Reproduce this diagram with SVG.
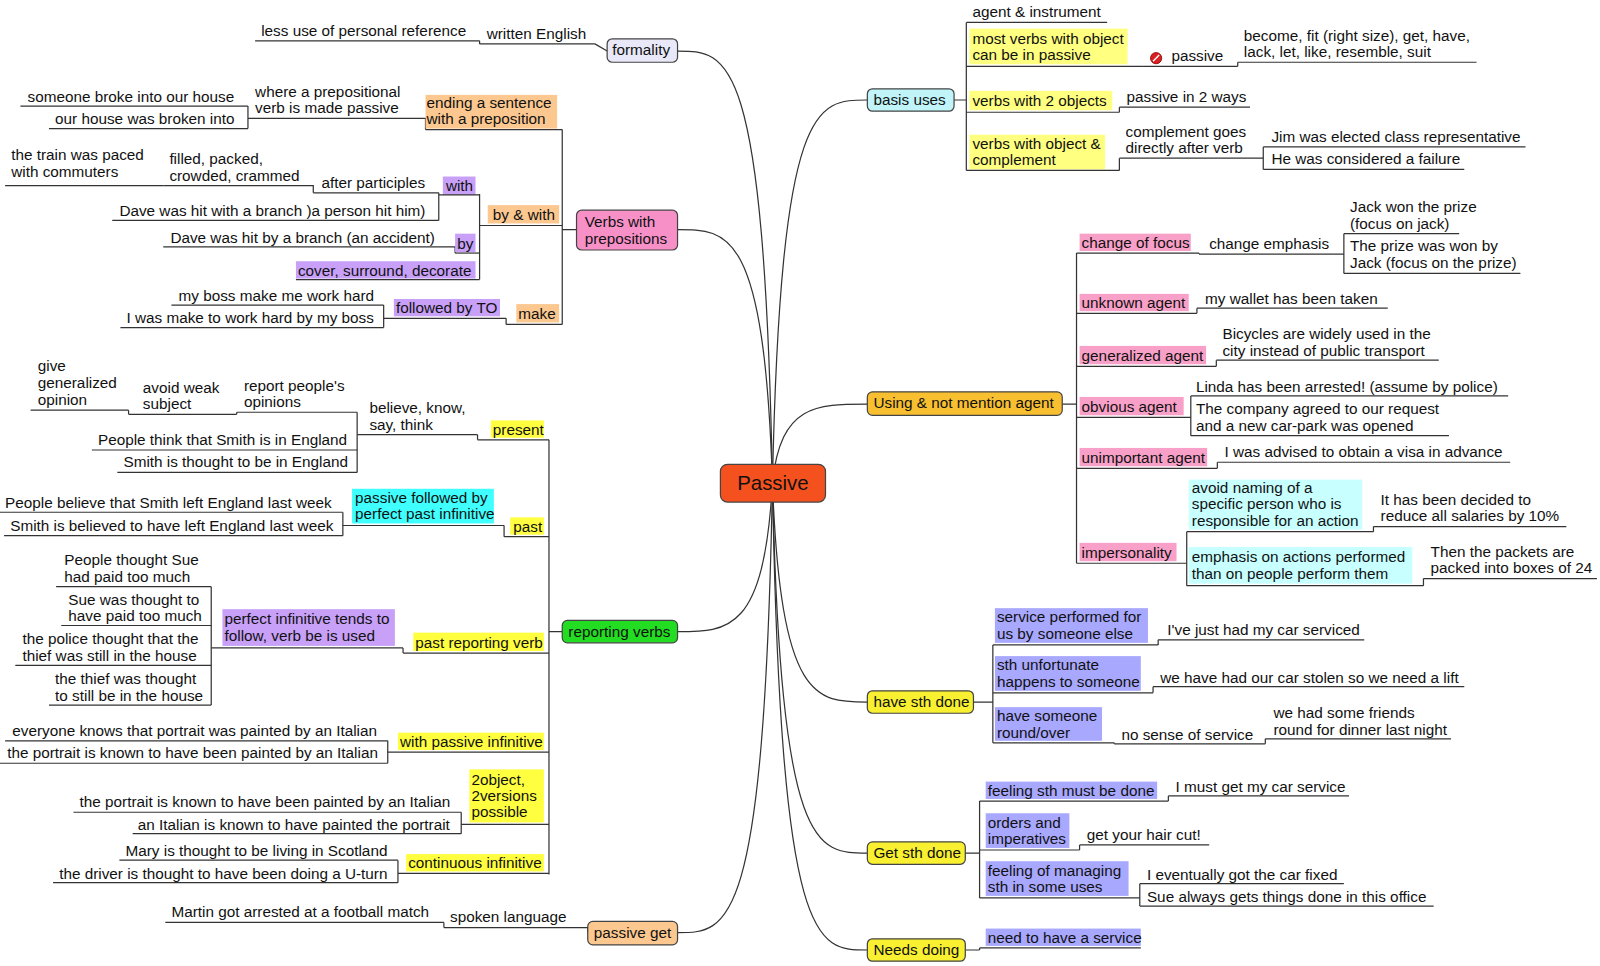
<svg xmlns="http://www.w3.org/2000/svg" width="1600" height="966" viewBox="0 0 1600 966">
<style>
text{font-family:"Liberation Sans",Arial,sans-serif;font-size:15px;fill:#111}
.u,.c path,.c line{stroke:#333;stroke-width:1.2;fill:none}
.b{stroke:#444;stroke-width:1.2}
.y{fill:#ffff40}.p{fill:#f9a0c8}.o{fill:#fcc890}.v{fill:#c8a0f8}.bl{fill:#a8a8ff}.cy{fill:#40ffff}.lc{fill:#c8ffff}.yl{fill:#ffff80}
</style>
<rect width="1600" height="966" fill="#ffffff"/>
<g transform="scale(1.0204)">
<g class="c" id="connectors">
<path d="M757,473 C749,50 714,50 664,50"/><path d="M757,473 C749,225 714,225 664,225"/><path d="M757,473 C749,619 714,619 664,619"/><path d="M757,473 C749,914 714,914 664,914"/>
<path d="M757,473 C765,98 800,98 850,98"/><path d="M757,473 C765,396 800,396 850,396"/><path d="M757,473 C765,688 800,688 850,688"/><path d="M757,473 C765,836 800,836 850,836"/><path d="M757,473 C765,931 800,931 850,931"/>
<path d="M583,43 L595,50 M470,40 V43 M551,127 V318 M551,225 H565 M417,116 V127 M243,104 V126 M470,190 V274 M430,189 V216 M446,242 V248 M496,312 V318 M376,299 V321"/>
<path d="M538,431 V857 M538,619 H551 M468,426 V431 M350,404 V463 M232,404 V406 M126,402 V406 M494,515 V526 M336,502 V525 M395,635 V640 M207,575 V691 M380,726 V748 M452,796 V817 M390,843 V865 M576,909 V914 M435,904 V909"/>
<path d="M935,98 H947 M947,22 V167 M1213,61 V65 M1097,105 V110 M1097,155 V167 M1238,144 V166"/>
<path d="M1041,396 H1055 M1055,248 V552 M1175,248 V249 M1317,229 V268 M1173,302 V307 M1192,353 V359 M1167,388 V427 M1193,453 V459 M1163,521 V574 M1346,516 V521 M1395,567 V574"/>
<path d="M954,688 H973 M973,632 V728 M1135,627 V632 M1130,673 V679 M1092,728 V729 M1240,724 V729 M946,836 H960 M960,785 V880 M1145,780 V785 M1058,828 V833 M1117,866 V888 M946,931 H960 M960,929 V931"/>
</g>
<g id="passive"><rect x="706" y="455" width="103" height="37" rx="7" fill="#f4511e" class="b"/><text x="757.5" y="480" text-anchor="middle" style="font-size:20px">Passive</text></g>

<g id="formality"><rect x="595" y="38" width="69" height="23" rx="5" fill="#e8e8f8" class="b"/><text x="600" y="54">formality</text></g>
<g id="written"><text x="477" y="38">written English</text><path class="u" d="M470,43 H583"/></g>
<g id="lessuse"><text x="256" y="35">less use of personal reference</text><path class="u" d="M250,40 H470"/></g>

<g id="verbsprep"><rect x="565" y="206" width="99" height="39" rx="5" fill="#f890c8" class="b"/><text x="573" y="222">Verbs with</text><text x="573" y="239">prepositions</text></g>
<g id="ending"><rect x="417" y="93" width="129" height="33" class="o"/><text x="418" y="106">ending a sentence</text><text x="418" y="122">with a preposition</text><path class="u" d="M417,127 H551"/></g>
<g id="where"><text x="250" y="95">where a prepositional</text><text x="250" y="111">verb is made passive</text><path class="u" d="M243,116 H417"/></g>
<g id="someone"><text x="27" y="100">someone broke into our house</text><path class="u" d="M20,104 H243"/></g>
<g id="ourhouse"><text x="54" y="122">our house was broken into</text><path class="u" d="M48,126 H243"/></g>
<g id="bywith"><rect x="478" y="201" width="70" height="18" class="o"/><text x="483" y="216">by &amp; with</text><path class="u" d="M470,221 H551"/></g>
<g id="with"><rect x="434" y="173" width="32" height="18" class="v"/><text x="437" y="187">with</text><path class="u" d="M430,191 H470"/></g>
<g id="afterpart"><text x="315" y="184">after participles</text><path class="u" d="M307,189 H430"/></g>
<g id="filled"><text x="166" y="161">filled, packed,</text><text x="166" y="177">crowded, crammed</text><path class="u" d="M160,182 H307 V189"/></g>
<g id="train"><text x="11" y="157">the train was paced</text><text x="11" y="173">with commuters</text><path class="u" d="M5,182 H160"/></g>
<g id="davewith"><text x="117" y="212">Dave was hit with a branch )a person hit him)</text><path class="u" d="M110,216 H430"/></g>
<g id="by"><rect x="446" y="229" width="20" height="18" class="v"/><text x="448" y="244">by</text><path class="u" d="M446,248 H470"/></g>
<g id="daveby"><text x="167" y="238">Dave was hit by a branch (an accident)</text><path class="u" d="M160,242 H446"/></g>
<g id="cover"><rect x="290" y="256" width="176" height="17" class="v"/><text x="292" y="270">cover, surround, decorate</text><path class="u" d="M290,274 H470"/></g>
<g id="make"><rect x="506" y="298" width="42" height="18" class="o"/><text x="508" y="313">make</text><path class="u" d="M496,318 H551"/></g>
<g id="followedto"><rect x="386" y="293" width="104" height="17" class="v"/><text x="388" y="307">followed by TO</text><path class="u" d="M376,312 H496"/></g>
<g id="myboss"><text x="175" y="295">my boss make me work hard</text><path class="u" d="M168,299 H376"/></g>
<g id="iwasmake"><text x="124" y="317">I was make to work hard by my boss</text><path class="u" d="M118,321 H376"/></g>

<g id="reporting"><rect x="551" y="608" width="113" height="22" rx="5" fill="#22dd22" class="b"/><text x="557" y="624">reporting verbs</text></g>
<g id="present"><rect x="481" y="412" width="52" height="17" class="y"/><text x="483" y="426">present</text><path class="u" d="M468,431 H538"/></g>
<g id="believe"><text x="362" y="405">believe, know,</text><text x="362" y="421">say, think</text><path class="u" d="M350,426 H468"/></g>
<g id="report"><text x="239" y="383">report people's</text><text x="239" y="399">opinions</text><path class="u" d="M232,404 H350"/></g>
<g id="avoidweak"><text x="140" y="385">avoid weak</text><text x="140" y="401">subject</text><path class="u" d="M126,406 H232"/></g>
<g id="give"><text x="37" y="364">give</text><text x="37" y="380">generalized</text><text x="37" y="397">opinion</text><path class="u" d="M30,402 H126"/></g>
<g id="peoplethink"><text x="96" y="436">People think that Smith is in England</text><path class="u" d="M90,441 H350"/></g>
<g id="smiththought"><text x="121" y="458">Smith is thought to be in England</text><path class="u" d="M115,463 H350"/></g>
<g id="past"><rect x="500" y="507" width="33" height="17" class="y"/><text x="503" y="521">past</text><path class="u" d="M494,526 H538"/></g>
<g id="passfollowed"><rect x="345" y="479" width="139" height="34" class="cy"/><text x="348" y="493">passive followed by</text><text x="348" y="509">perfect past infinitive</text><path class="u" d="M336,515 H494"/></g>
<g id="peoplebelieve"><text x="5" y="498">People believe that Smith left England last week</text><path class="u" d="M0,502 H336"/></g>
<g id="smithbelieved"><text x="10" y="520">Smith is believed to have left England last week</text><path class="u" d="M4,525 H336"/></g>
<g id="pastrep"><rect x="405" y="620" width="128" height="18" class="y"/><text x="407" y="635">past reporting verb</text><path class="u" d="M395,640 H538"/></g>
<g id="perfinf"><rect x="218" y="597" width="169" height="36" class="v"/><text x="220" y="612">perfect infinitive tends to</text><text x="220" y="628">follow, verb be is used</text><path class="u" d="M207,635 H395"/></g>
<g id="pts"><text x="63" y="554">People thought Sue</text><text x="63" y="570">had paid too much</text><path class="u" d="M55,575 H207"/></g>
<g id="swt"><text x="67" y="593">Sue was thought to</text><text x="67" y="609">have paid too much</text><path class="u" d="M60,613 H207"/></g>
<g id="police"><text x="22" y="631">the police thought that the</text><text x="22" y="648">thief was still in the house</text><path class="u" d="M15,652 H207"/></g>
<g id="thief"><text x="54" y="670">the thief was thought</text><text x="54" y="687">to still be in the house</text><path class="u" d="M48,691 H207"/></g>
<g id="withpassinf"><rect x="390" y="718" width="143" height="17" class="y"/><text x="392" y="732">with passive infinitive</text><path class="u" d="M380,737 H538"/></g>
<g id="everyone"><text x="12" y="721">everyone knows that portrait was painted by an Italian</text><path class="u" d="M5,726 H380"/></g>
<g id="portrait1"><text x="7" y="743">the portrait is known to have been painted by an Italian</text><path class="u" d="M0,748 H380"/></g>
<g id="twoobj"><rect x="460" y="754" width="73" height="52" class="y"/><text x="462" y="769">2object,</text><text x="462" y="785">2versions</text><text x="462" y="801">possible</text><path class="u" d="M452,808 H538"/></g>
<g id="portrait2"><text x="78" y="791">the portrait is known to have been painted by an Italian</text><path class="u" d="M72,796 H452"/></g>
<g id="italian"><text x="135" y="813">an Italian is known to have painted the portrait</text><path class="u" d="M130,817 H452"/></g>
<g id="continuous"><rect x="398" y="837" width="135" height="17" class="y"/><text x="400" y="851">continuous infinitive</text><path class="u" d="M390,856 H538"/></g>
<g id="mary"><text x="123" y="839">Mary is thought to be living in Scotland</text><path class="u" d="M117,843 H390"/></g>
<g id="driver"><text x="58" y="861">the driver is thought to have been doing a U-turn</text><path class="u" d="M52,865 H390"/></g>

<g id="passiveget"><rect x="576" y="903" width="88" height="23" rx="5" fill="#fcc890" class="b"/><text x="582" y="919">passive get</text></g>
<g id="spoken"><text x="441" y="904">spoken language</text><path class="u" d="M435,909 H576"/></g>
<g id="martin"><text x="168" y="899">Martin got arrested at a football match</text><path class="u" d="M162,904 H435"/></g>

<g id="basis"><rect x="850" y="87" width="85" height="22" rx="5" fill="#c0f4f8" class="b"/><text x="856" y="103">basis uses</text></g>
<g id="agent"><text x="953" y="17">agent &amp; instrument</text><path class="u" d="M947,22 H1085"/></g>
<g id="mostverbs"><rect x="950" y="28" width="155" height="35" class="yl"/><text x="953" y="43">most verbs with object</text><text x="953" y="59">can be in passive</text><path class="u" d="M947,65 H1120"/></g>
<g id="notpassive"><circle cx="1133" cy="57" r="5.5" fill="#d82020" stroke="#800" stroke-width="0.8"/><path d="M1130,60 L1136,54" stroke="#fff" stroke-width="1.4"/><text x="1148" y="60">passive</text><path class="u" d="M1120,65 H1213"/></g>
<g id="become"><text x="1219" y="40">become, fit (right size), get, have,</text><text x="1219" y="56">lack, let, like, resemble, suit</text><path class="u" d="M1213,61 H1447"/></g>
<g id="twoobjects"><rect x="950" y="89" width="140" height="19" class="yl"/><text x="953" y="104">verbs with 2 objects</text><path class="u" d="M947,110 H1097"/></g>
<g id="twoways"><text x="1104" y="100">passive in 2 ways</text><path class="u" d="M1097,105 H1225"/></g>
<g id="objcompl"><rect x="950" y="132" width="133" height="34" class="yl"/><text x="953" y="146">verbs with object &amp;</text><text x="953" y="162">complement</text><path class="u" d="M947,167 H1097"/></g>
<g id="complgoes"><text x="1103" y="134">complement goes</text><text x="1103" y="150">directly after verb</text><path class="u" d="M1097,155 H1238"/></g>
<g id="jim"><text x="1246" y="139">Jim was elected class representative</text><path class="u" d="M1238,144 H1495"/></g>
<g id="he"><text x="1246" y="161">He was considered a failure</text><path class="u" d="M1238,166 H1435"/></g>

<g id="using"><rect x="850" y="384" width="191" height="23" rx="5" fill="#f8c030" class="b"/><text x="856" y="400">Using &amp; not mention agent</text></g>
<g id="focus"><rect x="1058" y="229" width="109" height="17" class="p"/><text x="1060" y="243">change of focus</text><path class="u" d="M1055,248 H1175"/></g>
<g id="emph"><text x="1185" y="244">change emphasis</text><path class="u" d="M1175,249 H1317"/></g>
<g id="jack"><text x="1323" y="208">Jack won the prize</text><text x="1323" y="224">(focus on jack)</text><path class="u" d="M1317,229 H1430"/></g>
<g id="prize"><text x="1323" y="246">The prize was won by</text><text x="1323" y="263">Jack (focus on the prize)</text><path class="u" d="M1317,268 H1490"/></g>
<g id="unknown"><rect x="1058" y="288" width="107" height="17" class="p"/><text x="1060" y="302">unknown agent</text><path class="u" d="M1055,307 H1173"/></g>
<g id="wallet"><text x="1181" y="298">my wallet has been taken</text><path class="u" d="M1173,302 H1360"/></g>
<g id="generalized"><rect x="1058" y="339" width="124" height="18" class="p"/><text x="1060" y="354">generalized agent</text><path class="u" d="M1055,359 H1192"/></g>
<g id="bicycles"><text x="1198" y="332">Bicycles are widely used in the</text><text x="1198" y="349">city instead of public transport</text><path class="u" d="M1192,353 H1410"/></g>
<g id="obvious"><rect x="1058" y="389" width="102" height="18" class="p"/><text x="1060" y="404">obvious agent</text><path class="u" d="M1055,409 H1167"/></g>
<g id="linda"><text x="1172" y="384">Linda has been arrested! (assume by police)</text><path class="u" d="M1167,388 H1478"/></g>
<g id="company"><text x="1172" y="406">The company agreed to our request</text><text x="1172" y="422">and a new car-park was opened</text><path class="u" d="M1167,427 H1420"/></g>
<g id="unimportant"><rect x="1058" y="439" width="125" height="18" class="p"/><text x="1060" y="454">unimportant agent</text><path class="u" d="M1055,459 H1193"/></g>
<g id="advised"><text x="1200" y="448">I was advised to obtain a visa in advance</text><path class="u" d="M1193,453 H1480"/></g>
<g id="imperson"><rect x="1058" y="532" width="95" height="18" class="p"/><text x="1060" y="547">impersonality</text><path class="u" d="M1055,552 H1163"/></g>
<g id="avoidnaming"><rect x="1165" y="470" width="170" height="49" class="lc"/><text x="1168" y="483">avoid naming of a</text><text x="1168" y="499">specific person who is</text><text x="1168" y="515">responsible for an action</text><path class="u" d="M1163,521 H1346"/></g>
<g id="decided"><text x="1353" y="495">It has been decided to</text><text x="1353" y="511">reduce all salaries by 10%</text><path class="u" d="M1346,516 H1535"/></g>
<g id="emphasis"><rect x="1165" y="536" width="219" height="36" class="lc"/><text x="1168" y="551">emphasis on actions performed</text><text x="1168" y="567">than on people perform them</text><path class="u" d="M1163,574 H1395"/></g>
<g id="packets"><text x="1402" y="546">Then the packets are</text><text x="1402" y="562">packed into boxes of 24</text><path class="u" d="M1395,567 H1565"/></g>

<g id="havesth"><rect x="850" y="677" width="104" height="22" rx="5" fill="#f8f030" class="b"/><text x="856" y="693">have sth done</text></g>
<g id="service"><rect x="975" y="596" width="150" height="34" class="bl"/><text x="977" y="610">service performed for</text><text x="977" y="626">us by someone else</text><path class="u" d="M973,632 H1135"/></g>
<g id="serviced"><text x="1144" y="622">I've just had my car serviced</text><path class="u" d="M1135,627 H1337"/></g>
<g id="unfortunate"><rect x="975" y="643" width="143" height="34" class="bl"/><text x="977" y="657">sth unfortunate</text><text x="977" y="673">happens to someone</text><path class="u" d="M973,679 H1130"/></g>
<g id="stolen"><text x="1137" y="669">we have had our car stolen so we need a lift</text><path class="u" d="M1130,673 H1435"/></g>
<g id="round"><rect x="975" y="693" width="105" height="33" class="bl"/><text x="977" y="707">have someone</text><text x="977" y="723">round/over</text><path class="u" d="M973,728 H1092"/></g>
<g id="nosense"><text x="1099" y="725">no sense of service</text><path class="u" d="M1092,729 H1240"/></g>
<g id="friends"><text x="1248" y="704">we had some friends</text><text x="1248" y="720">round for dinner last night</text><path class="u" d="M1240,724 H1422"/></g>

<g id="getsth"><rect x="850" y="825" width="96" height="22" rx="5" fill="#f8f030" class="b"/><text x="856" y="841">Get sth done</text></g>
<g id="mustbe"><rect x="966" y="766" width="168" height="17" class="bl"/><text x="968" y="780">feeling sth must be done</text><path class="u" d="M960,785 H1145"/></g>
<g id="mustget"><text x="1152" y="776">I must get my car service</text><path class="u" d="M1145,780 H1322"/></g>
<g id="orders"><rect x="966" y="797" width="82" height="34" class="bl"/><text x="968" y="811">orders and</text><text x="968" y="827">imperatives</text><path class="u" d="M960,833 H1058"/></g>
<g id="haircut"><text x="1065" y="823">get your hair cut!</text><path class="u" d="M1058,828 H1185"/></g>
<g id="managing"><rect x="966" y="844" width="140" height="34" class="bl"/><text x="968" y="858">feeling of managing</text><text x="968" y="874">sth in some uses</text><path class="u" d="M960,880 H1117"/></g>
<g id="eventually"><text x="1124" y="862">I eventually got the car fixed</text><path class="u" d="M1117,866 H1317"/></g>
<g id="office"><text x="1124" y="884">Sue always gets things done in this office</text><path class="u" d="M1117,888 H1405"/></g>

<g id="needs"><rect x="850" y="920" width="96" height="22" rx="5" fill="#f8f030" class="b"/><text x="856" y="936">Needs doing</text></g>
<g id="needservice"><rect x="966" y="910" width="152" height="17" class="bl"/><text x="968" y="924">need to have a service</text><path class="u" d="M960,929 H1118"/></g>
</g>
</svg>
